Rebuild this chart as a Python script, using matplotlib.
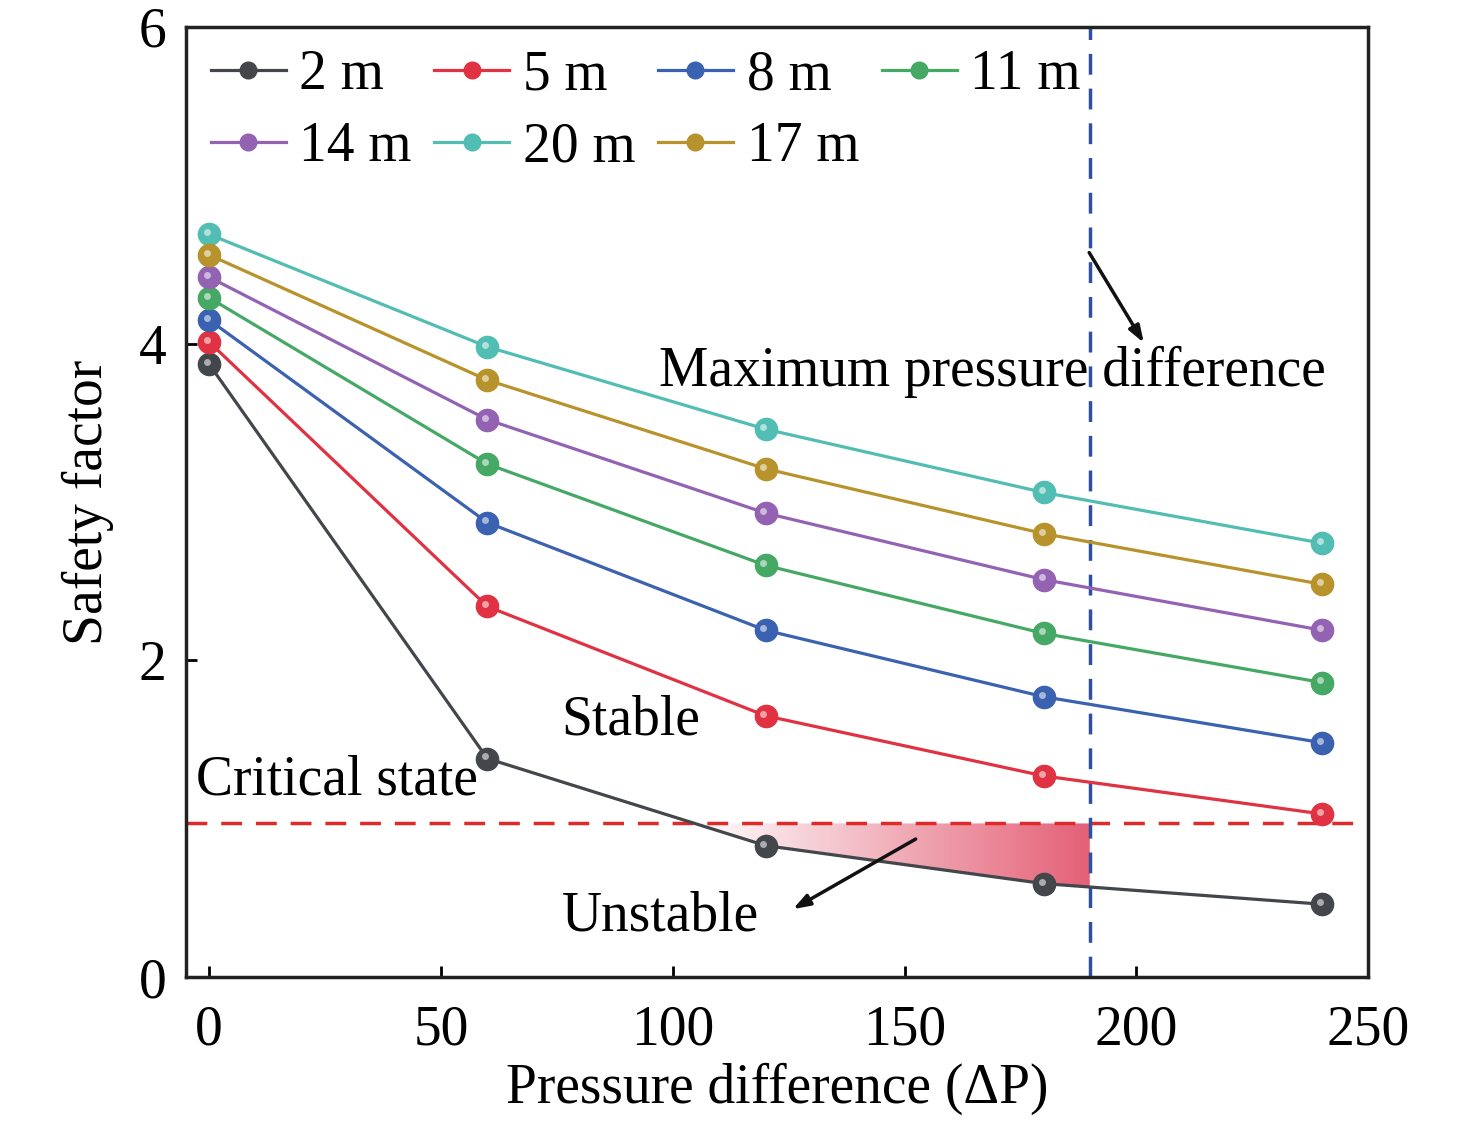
import numpy as np
import matplotlib
matplotlib.use("Agg")
import matplotlib.pyplot as plt
from matplotlib.colors import LinearSegmentedColormap
from matplotlib.transforms import offset_copy

plt.rcParams['font.family'] = ['Liberation Serif', 'DejaVu Serif']

x = [0, 60, 120, 180, 240]
labels = ["2 m", "5 m", "8 m", "11 m", "14 m", "20 m", "17 m"]
s2 = [3.87, 1.38, 0.83, 0.59, 0.46]
s5 = [4.01, 2.34, 1.65, 1.27, 1.03]
s8 = [4.15, 2.87, 2.19, 1.77, 1.48]
s11 = [4.29, 3.24, 2.60, 2.17, 1.86]
s14 = [4.42, 3.52, 2.93, 2.51, 2.19]
s20 = [4.69, 3.98, 3.46, 3.06, 2.74]
s17 = [4.56, 3.77, 3.21, 2.80, 2.48]
series = [s2, s5, s8, s11, s14, s20, s17]
colors = ["#43464b", "#e03242", "#3a62b0", "#45a865", "#9362b2", "#52bdb2", "#b8922a"]

critical = 0.97
max_dp = 190

fig = plt.figure(figsize=(14.76, 11.22), dpi=100)
ax = fig.add_axes([0.126, 0.1292, 0.801, 0.8468])

handles = []
for ys, c, lab in zip(series, colors, labels):
    h, = ax.plot(x, ys, '-', color=c, lw=2.3, marker='o', ms=16, mfc=c, mec=c, label=lab, zorder=3)
    handles.append(h)
    tr = offset_copy(ax.transData, fig=fig, x=-1.5, y=1.5, units='points')
    ax.plot(x, ys, 'o', ms=5, mfc='white', mec='none', alpha=0.55, zorder=4, transform=tr)

# gradient fill between critical line and 2 m line
xs = np.linspace(0, 240, 2000)
y2 = np.interp(xs, x, s2)
x_cross = xs[np.argmax(y2 < critical)]
mask = (xs >= x_cross) & (xs <= max_dp)
poly = ax.fill_between(xs[mask], y2[mask], critical, color='none', lw=0, zorder=1)
cmap = LinearSegmentedColormap.from_list('g', ['#ffffff', '#e3586f'])
grad = np.linspace(0, 1, 256).reshape(1, -1)
im = ax.imshow(grad, extent=[x_cross, max_dp, 0.4, critical], aspect='auto', cmap=cmap,
               origin='lower', zorder=1, alpha=0.95)
im.set_clip_path(poly.get_paths()[0], transform=ax.transData)

ax.axhline(critical, color='#e02a2a', ls=(0, (6, 4)), lw=2.5, zorder=2)
ax.axvline(max_dp, color='#2f4fa0', ls=(0, (6, 4)), lw=2.5, zorder=2)

ax.set_xlim(-5, 250)
ax.set_ylim(0, 6)
ax.set_xticks([0, 50, 100, 150, 200, 250])
ax.set_yticks([0, 2, 4, 6])
ax.tick_params(direction='in', length=8, width=2, labelsize=40)
ax.tick_params(axis='x', pad=20)
ax.tick_params(axis='y', pad=14)
for sp in ax.spines.values():
    sp.set_linewidth(2.5)
    sp.set_color('#222222')
ax.set_xlabel('Pressure difference (ΔP)', fontsize=40, labelpad=4)
ax.set_ylabel('Safety factor', fontsize=40, labelpad=18)

ax.text(97, 3.82, 'Maximum pressure difference', fontsize=40, va='center', ha='left')
ax.text(76, 1.62, 'Stable', fontsize=40, va='center', ha='left')
ax.text(-2.8, 1.24, 'Critical state', fontsize=40, va='center', ha='left')
ax.text(76, 0.38, 'Unstable', fontsize=40, va='center', ha='left')

ax.annotate('', xy=(201.9, 3.99), xytext=(189.5, 4.59),
            arrowprops=dict(arrowstyle='-|>,head_length=1.0,head_width=0.35', color='#111111', lw=2.5))
ax.annotate('', xy=(125.4, 0.42), xytext=(152.9, 0.88),
            arrowprops=dict(arrowstyle='-|>,head_length=1.0,head_width=0.35', color='#111111', lw=2.5))

# row-wise legend order: 2,5,8,11 / 14,20,17
order = [0, 4, 1, 5, 2, 6, 3]
ax.legend([handles[i] for i in order], [labels[i] for i in order], loc='upper left', ncol=4,
          frameon=False, fontsize=40, markerscale=0.75,
          handlelength=1.35, handletextpad=0.25, columnspacing=0.4, borderaxespad=0.0,
          labelspacing=0.36, bbox_to_anchor=(0.002, 1.0))

fig.savefig('out.png', dpi=100)
